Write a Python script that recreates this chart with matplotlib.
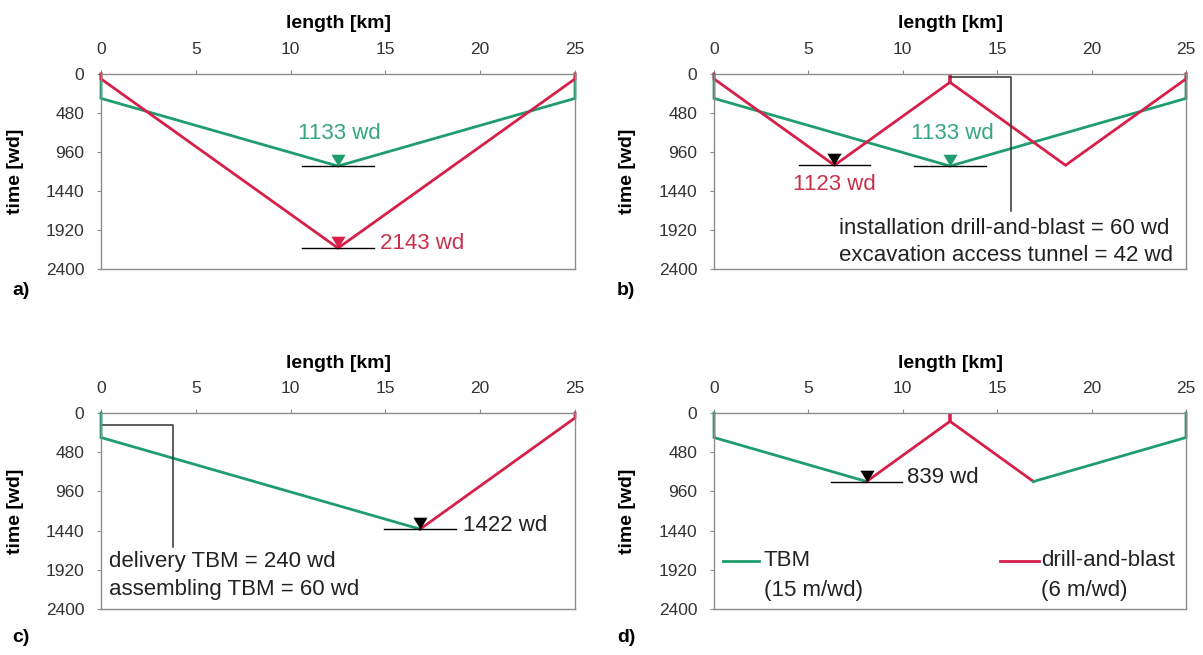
import matplotlib
matplotlib.use("Agg")
import matplotlib.pyplot as plt
from matplotlib.path import Path

plt.rcParams['font.family'] = ['Liberation Sans', 'DejaVu Sans']

# --- data (km, working days) ---
# a) both methods from the two portals
a_tbm_km = [0, 0, 12.5, 25, 25]
a_tbm_wd = [0, 300, 1133, 300, 0]
a_db_km = [0, 0, 12.5, 25, 25]
a_db_wd = [0, 60, 2143, 60, 0]

# b) extra drill-and-blast attack from an access tunnel at 12.5 km
b_tbm_km = [0, 0, 12.5, 25, 25]
b_tbm_wd = [0, 300, 1133, 300, 0]
b_db_km = [0, 0, 6.38, 12.5, 12.5, 12.5, 18.62, 25, 25]
b_db_wd = [0, 60, 1123, 102, 0, 102, 1123, 60, 0]

# c) TBM from one side, drill-and-blast from the other
c_tbm_km = [0, 0, 16.83]
c_tbm_wd = [0, 300, 1422]
c_db_km = [16.83, 25, 25]
c_db_wd = [1422, 60, 0]

# d) TBM from both portals, drill-and-blast from the access tunnel
d_tbm1_km = [0, 0, 8.08]
d_tbm1_wd = [0, 300, 839]
d_db_km = [8.08, 12.5, 12.5, 12.5, 16.92]
d_db_wd = [839, 102, 0, 102, 839]
d_tbm2_km = [16.92, 25, 25]
d_tbm2_wd = [839, 300, 0]

# breakthrough points: (km, wd, label, marker colour, text colour)
meet_a = [(12.5, 1133, "1133 wd", "g", "g"), (12.5, 2143, "2143 wd", "r", "r")]
meet_b = [(6.38, 1123, "1123 wd", "k", "r"), (12.5, 1133, "1133 wd", "g", "g")]
meet_c = [(16.83, 1422, "1422 wd", "k", "k")]
meet_d = [(8.08, 839, "839 wd", "k", "k")]

x_ticks = [0, 5, 10, 15, 20, 25]
y_ticks = [0, 480, 960, 1440, 1920, 2400]

GREEN = '#1f9d6d'
RED = '#d61f49'
COLS = {'g': GREEN, 'r': RED, 'k': 'black'}
TXT = {'g': '#35a77c', 'r': '#c9314b', 'k': '#222222'}
SPINE = '#8c8c8c'
FS = 16

# triangle with apex at the point, sitting above it
tri = Path([(-0.6, 1.0), (0.6, 1.0), (0.0, 0.0), (-0.6, 1.0)],
           [Path.MOVETO, Path.LINETO, Path.LINETO, Path.CLOSEPOLY])

fig = plt.figure(figsize=(12.03, 6.55), dpi=100)
W, H = 1203, 655


def make_ax(x0, x1, y0, y1):
    ax = fig.add_axes([x0 / W, 1 - y1 / H, (x1 - x0) / W, (y1 - y0) / H])
    ax.set_xlim(0, 25)
    ax.set_ylim(2400, 0)
    ax.xaxis.tick_top()
    ax.xaxis.set_label_position('top')
    ax.set_xticks(x_ticks)
    ax.set_yticks(y_ticks)
    ax.tick_params(axis='both', labelsize=12.5, color=SPINE, length=3,
                   width=0.8, pad=9, labelcolor='#333333')
    for s in ax.spines.values():
        s.set_color(SPINE)
        s.set_linewidth(1.0)
    ax.set_xlabel("length [km]", fontsize=14, fontweight='bold')
    ax.xaxis.set_label_coords(0.5, 1 + 50 / (y1 - y0))
    ax.xaxis.label.set_va('center')
    ax.set_ylabel("time [wd]", fontsize=14, fontweight='bold')
    ax.yaxis.set_label_coords(-86 / (x1 - x0), 0.5)
    ax.yaxis.label.set_va('center')
    return ax


def line(ax, km, wd, col):
    ax.plot(km, wd, color=col, lw=2.0, clip_on=False, solid_joinstyle='miter')


def meet(ax, pts, txt_pos):
    for (x, y, lab, mc, tc), (tx, ty, ha) in zip(pts, txt_pos):
        ax.plot([x - 1.9, x + 1.9], [y, y], color='black', lw=1.0)
        ax.plot([x], [y], marker=tri, markersize=17, color=COLS[mc],
                markeredgewidth=0, linestyle='none', zorder=5)
        ax.text(tx, ty, lab, color=TXT[tc], fontsize=FS, ha=ha, va='center')


def note(ax, x, y, s):
    ax.text(x, y, s, fontsize=FS, va='center', color='#222222')


def panel_label(x, y, s):
    fig.text(x / W, 1 - y / H, s, fontsize=14, fontweight='bold', va='center')


# a)
ax = make_ax(101, 575, 74, 269)
line(ax, a_tbm_km, a_tbm_wd, GREEN)
line(ax, a_db_km, a_db_wd, RED)
meet(ax, meet_a, [(12.55, 735, 'center'), (14.7, 2085, 'left')])
panel_label(12, 291, "a)")

# b)
ax = make_ax(714, 1186, 74, 269)
line(ax, b_tbm_km, b_tbm_wd, GREEN)
line(ax, b_db_km, b_db_wd, RED)
meet(ax, meet_b, [(6.4, 1365, 'center'), (12.6, 730, 'center')])
ax.plot([12.5, 15.75, 15.75], [40, 40, 1690], color='#333333', lw=1.1)
note(ax, 6.6, 1900, "installation drill-and-blast = 60 wd")
note(ax, 6.6, 2230, "excavation access tunnel = 42 wd")
panel_label(617, 291, "b)")

# c)
ax = make_ax(101, 575, 413, 609)
line(ax, c_tbm_km, c_tbm_wd, GREEN)
line(ax, c_db_km, c_db_wd, RED)
meet(ax, meet_c, [(19.1, 1375, 'left')])
ax.plot([0, 3.8, 3.8], [150, 150, 1640], color='#333333', lw=1.1)
note(ax, 0.4, 1815, "delivery TBM = 240 wd")
note(ax, 0.4, 2160, "assembling TBM = 60 wd")
panel_label(12, 638, "c)")

# d)
ax = make_ax(714, 1186, 413, 609)
line(ax, d_tbm1_km, d_tbm1_wd, GREEN)
line(ax, d_db_km, d_db_wd, RED)
line(ax, d_tbm2_km, d_tbm2_wd, GREEN)
meet(ax, meet_d, [(10.2, 790, 'left')])
# legend drawn by hand at the bottom corners
ax.plot([0.02, 0.095], [0.245, 0.245], transform=ax.transAxes, color=GREEN, lw=2.0)
ax.text(0.105, 0.245, "TBM", transform=ax.transAxes, fontsize=FS, va='center',
        color='#222222')
ax.text(0.105, 0.095, "(15 m/wd)", transform=ax.transAxes, fontsize=FS,
        va='center', color='#222222')
ax.plot([0.605, 0.688], [0.245, 0.245], transform=ax.transAxes, color=RED, lw=2.0)
ax.text(0.693, 0.245, "drill-and-blast", transform=ax.transAxes, fontsize=FS,
        va='center', color='#222222')
ax.text(0.693, 0.095, "(6 m/wd)", transform=ax.transAxes, fontsize=FS,
        va='center', color='#222222')
panel_label(617, 638, "d)")

fig.savefig("out.png", dpi=100)
